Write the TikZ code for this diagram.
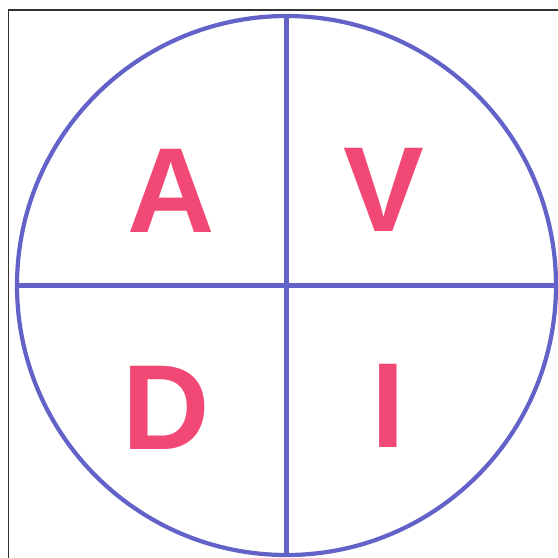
\documentclass[tikz,border=0pt]{standalone}
\usepackage{fontspec}
\setmainfont{Liberation Sans}
\definecolor{ringblue}{RGB}{98,98,200}
\definecolor{letterpink}{RGB}{242,72,118}
\definecolor{framegray}{RGB}{50,50,50}
\tikzset{
  ring/.style={draw=ringblue, line width=4.2pt},
  frameline/.style={draw=framegray, line width=1.2pt},
  letter/.style={text=letterpink, font=\fontsize{121}{121}\selectfont\bfseries, inner sep=0pt, anchor=base}
}
\begin{document}
\begin{tikzpicture}[x=1pt,y=-1pt]
\useasboundingbox (0,0) rectangle (558,558);
\fill[white] (0,0) rectangle (558,558);
% scan frame (top and left only)
\coordinate (fl) at (8.5,560);
\coordinate (fc) at (8.5,10);
\coordinate (fr) at (560,10);
\draw[frameline] (fl) -- (fc) -- (fr);
% circle and cross
\coordinate (c) at (286.5,285.5);
\draw[ring] (c) circle (269.5pt);
\coordinate (top) at (286.5,16);
\coordinate (bot) at (286.5,555);
\coordinate (lft) at (17,285.5);
\coordinate (rgt) at (556,285.5);
\draw[ring] (top) -- (bot);
\draw[ring] (lft) -- (rgt);
% letters
\node[letter] (a) at (171,232) {A};
\node[letter] (v) at (384,231) {V};
\node[letter] (d) at (166,449) {D};
\node[letter] (i) at (388,447) {I};
\end{tikzpicture}
\end{document}
